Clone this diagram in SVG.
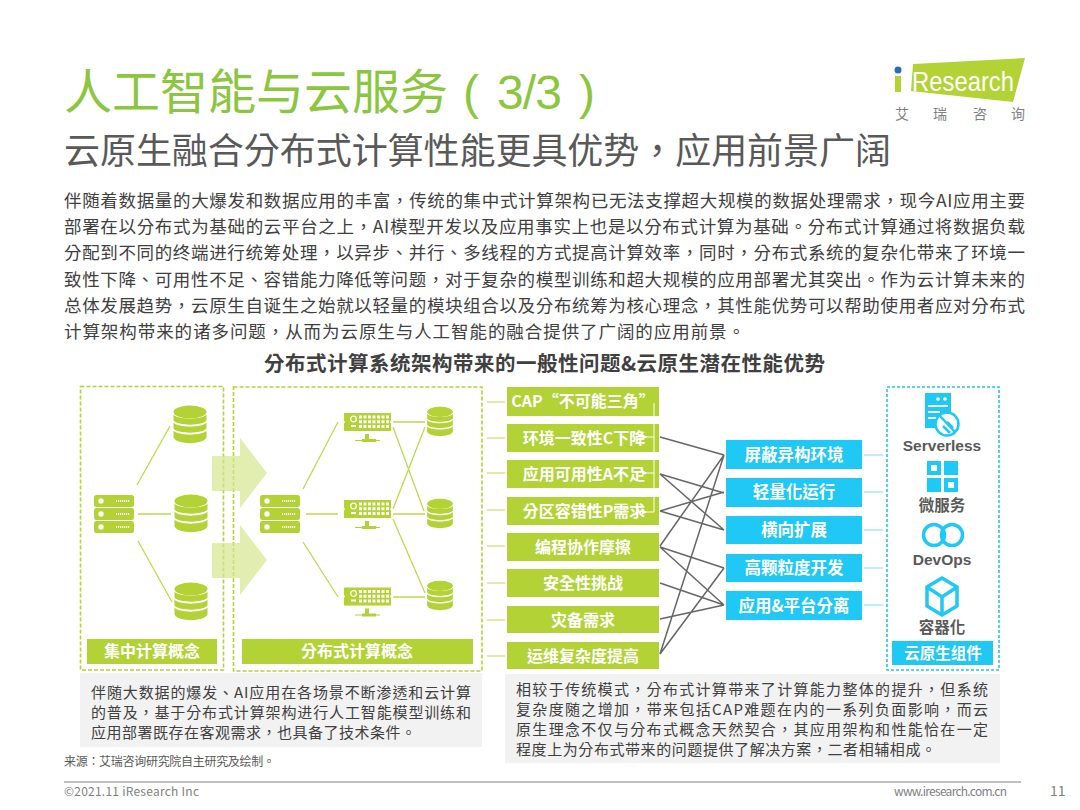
<svg xmlns="http://www.w3.org/2000/svg" width="1080" height="810" viewBox="0 0 1080 810">
<style>
text{font-family:"Noto Sans CJK TC","Liberation Sans",sans-serif}
.lbl{fill:#fff;font-weight:700;font-size:16px;text-anchor:middle}
.g{fill:#B2D235}.b{fill:#1FC8F5}
.dg{fill:none;stroke:#B2D235;stroke-width:1.6;stroke-dasharray:4 2}
.db{fill:none;stroke:#1FC8F5;stroke-width:1.6;stroke-dasharray:3 2}
.para{fill:#404040;font-size:17.5px}
.note{fill:#404040;font-size:15px}
.ic{fill:#595959;font-weight:700;font-size:15.5px;text-anchor:middle}
.gl{stroke:#BDD94F;stroke-width:1.3;fill:none}
.gr{stroke:#666;stroke-width:1.5;fill:none}
.st{stroke:#BDD94F;stroke-width:1.2}
.sb{stroke:#7FDDF7;stroke-width:1.2}
.foot{fill:#7f7f7f;font-size:12px}
.ttl{font-size:48px;fill:#8CC63F}
.lat{font-family:"Liberation Sans",sans-serif}
.wl{fill:none;stroke:#fff;stroke-width:1}
</style>
<defs>
<g id="dbi"><ellipse cx="0" cy="-13" rx="16.5" ry="6.5" class="g"/>
<path class="g" d="M-16.5-10.500C-13-5 13-5 16.500-10.500V-4.500C13 1-13 1-16.500-4.500Z"/>
<path class="g" d="M-16.500-2.500C-13 3 13 3 16.500-2.500V3.500C13 9-13 9-16.500 3.500Z"/>
<path class="g" d="M-16.500 5.500C-13 11 13 11 16.500 5.500V12.500C13 20-13 20-16.500 12.500Z"/></g>
<g id="srv"><g class="g"><rect x="0" y="0" width="40" height="12" rx="2.500"/><rect x="0" y="13" width="40" height="12" rx="2.500"/><rect x="0" y="26" width="40" height="12" rx="2.500"/></g>
<g fill="#fff"><circle cx="7" cy="6" r="2.700"/><circle cx="7" cy="19" r="2.700"/><circle cx="7" cy="32" r="2.700"/></g>
<path d="M22 6h14M22 19h14M22 32h14" stroke="#fff" stroke-width="2" stroke-dasharray="1.200 .8"/></g>
<g id="rack"><path class="g" d="M0 0H47V7.500L46 9L47 10.500V18H0V10.500L1 9L0 7.500Z"/>
<circle cx="9.500" cy="6" r="2.800" fill="none" stroke="#fff" stroke-width="1.200"/><rect x="7" y="12" width="5" height="2" fill="#fff"/>
<path d="M15 4H46M15 8.800H46M15 13.600H46" stroke="#fff" stroke-width="3" stroke-dasharray="3 1.500"/>
<path class="g" d="M21 21h4v5h7v3h-14v-3h3Z"/><path d="M11 27.500H36" stroke="#B2D235" stroke-width="1"/></g>
<marker id="wh" markerWidth="5" markerHeight="6" refX="4" refY="3" orient="auto"><path d="M5 0L0 3L5 6Z" fill="#fff"/></marker>
</defs>
<rect width="1080" height="810" fill="#fff"/>
<g id="title">
<text class="ttl" x="64" y="109">人工智能与云服务</text>
<text class="ttl lat" x="463" y="109">(</text><text class="ttl lat" x="497" y="109" textLength="65">3/3</text><text class="ttl lat" x="579" y="109">)</text>
</g>
<text x="64" y="164" font-size="36" fill="#595959" textLength="827">云原生融合分布式计算性能更具优势，应用前景广阔</text>
<g id="logo"><path d="M913 64L1025 58L1013 102L911 91Z" fill="#B2D235"/><circle cx="898" cy="70" r="3.500" fill="#2B6DB5"/><rect x="895" y="76" width="6" height="16" fill="#B2D235"/>
<text class="lat" x="912" y="91" font-size="28" fill="#fff" textLength="102" lengthAdjust="spacingAndGlyphs">Research</text>
<text x="895" y="119" font-size="14" fill="#7f7f7f">艾</text><text x="933" y="119" font-size="14" fill="#7f7f7f">瑞</text><text x="973" y="119" font-size="14" fill="#7f7f7f">咨</text><text x="1011" y="119" font-size="14" fill="#7f7f7f">询</text></g>
<g id="intro">
<text class="para" x="64" y="207" textLength="961">伴随着数据量的大爆发和数据应用的丰富，传统的集中式计算架构已无法支撑超大规模的数据处理需求，现今AI应用主要</text>
<text class="para" x="64" y="233" textLength="961">部署在以分布式为基础的云平台之上，AI模型开发以及应用事实上也是以分布式计算为基础。分布式计算通过将数据负载</text>
<text class="para" x="64" y="259" textLength="961">分配到不同的终端进行统筹处理，以异步、并行、多线程的方式提高计算效率，同时，分布式系统的复杂化带来了环境一</text>
<text class="para" x="64" y="286" textLength="961">致性下降、可用性不足、容错能力降低等问题，对于复杂的模型训练和超大规模的应用部署尤其突出。作为云计算未来的</text>
<text class="para" x="64" y="312" textLength="961">总体发展趋势，云原生自诞生之始就以轻量的模块组合以及分布统筹为核心理念，其性能优势可以帮助使用者应对分布式</text>
<text class="para" x="64" y="338" textLength="681">计算架构带来的诸多问题，从而为云原生与人工智能的融合提供了广阔的应用前景。</text>
</g>
<text x="264" y="371" font-size="20.500" font-weight="700" fill="#404040" textLength="561">分布式计算系统架构带来的一般性问题&amp;云原生潜在性能优势</text>

<g id="central"><rect class="dg" x="80.500" y="386.500" width="143" height="283.500"/>
<use href="#dbi" x="190" y="425"/><use href="#dbi" x="191" y="514"/><use href="#dbi" x="191" y="602"/>
<use href="#srv" x="94" y="495"/>
<rect class="g" x="87" y="639" width="130" height="25"/><text class="lbl" x="152" y="657">集中计算概念</text></g>
<g id="distributed"><rect class="dg" x="233.500" y="387" width="248.500" height="284"/>
<use href="#srv" x="260" y="495"/>
<use href="#rack" x="344" y="413"/><use href="#rack" x="344" y="500"/><use href="#rack" x="344" y="587.500"/>
<g transform="translate(440,422) scale(.78)"><use href="#dbi"/></g><g transform="translate(440,514) scale(.78)"><use href="#dbi"/></g><g transform="translate(440,596) scale(.78)"><use href="#dbi"/></g>
<rect class="g" x="242" y="639" width="231" height="25"/><text class="lbl" x="357" y="657">分布式计算概念</text></g>

<g id="connectors">
<path class="gl" d="M137 485L170 426M138 514H171M138 541L172 602M303 489L338 422M306 514H338M303 542L338 597M393 422H425M393 427L424 511M393 509L425 427M393 514H425M393 519L425 593M393 597H425"/>
<path class="st" d="M487 402H505M487 438H505M487 473H505M487 510H505M487 546H505M487 583H505M487 620H505M487 656H505"/>
<path class="sb" d="M864 455H883M864 492H883M864 530H883M864 568H883M864 605H883"/>
<path class="gr" d="M660 437L724 455M660 474L724 493M660 474L724 530M660 511L724 492M660 511L724 530M660 546L724 455M660 547L724 568M660 547L724 605M660 583L724 605M660 619L724 605M660 654L724 455M660 654L724 568"/>
</g>
<g id="arrows" fill="#D5E58F" fill-opacity=".7"><path d="M212 456H240V438L267 473L240 508V491H212Z"/><path d="M212 543H240V525L267 560L240 595V578H212Z"/></g>

<g id="mid">
<g id="p1"><rect class="g" x="507" y="387" width="152" height="29"/><text class="lbl" x="583" y="407">CAP“不可能三角”</text></g>
<g id="p2"><rect class="g" x="507" y="424" width="152" height="28"/><text class="lbl" x="584" y="444">环境一致性C下降</text></g>
<g id="p3"><rect class="g" x="507" y="460" width="152" height="28"/><text class="lbl" x="584" y="480">应用可用性A不足</text></g>
<g id="p4"><rect class="g" x="507" y="497" width="152" height="28"/><text class="lbl" x="584" y="517">分区容错性P需求</text></g>
<g id="p5"><rect class="g" x="507" y="533" width="152" height="28"/><text class="lbl" x="583" y="553">编程协作摩擦</text></g>
<g id="p6"><rect class="g" x="507" y="569" width="152" height="28"/><text class="lbl" x="583" y="589">安全性挑战</text></g>
<g id="p7"><rect class="g" x="507" y="606" width="152" height="27"/><text class="lbl" x="583" y="626">灾备需求</text></g>
<g id="p8"><rect class="g" x="507" y="642" width="152" height="27"/><text class="lbl" x="583" y="662">运维复杂度提高</text></g>
</g>
<g id="bracket"><path class="wl" d="M654 403V512"/><path class="wl" d="M654 437H643" marker-end="url(#wh)"/><path class="wl" d="M654 473H643" marker-end="url(#wh)"/><path class="wl" d="M654 512H643" marker-end="url(#wh)"/></g>
<g id="adv">
<g id="a1"><rect class="b" x="726" y="440" width="136" height="29"/><text class="lbl" x="794" y="461" style="font-size:16.500px">屏蔽异构环境</text></g>
<g id="a2"><rect class="b" x="726" y="478" width="136" height="29"/><text class="lbl" x="794" y="498" style="font-size:16.500px">轻量化运行</text></g>
<g id="a3"><rect class="b" x="726" y="516" width="136" height="28"/><text class="lbl" x="794" y="536" style="font-size:16.500px">横向扩展</text></g>
<g id="a4"><rect class="b" x="726" y="554" width="136" height="28"/><text class="lbl" x="794" y="574" style="font-size:16.500px">高颗粒度开发</text></g>
<g id="a5"><rect class="b" x="726" y="591" width="136" height="29"/><text class="lbl" x="794" y="612" style="font-size:16.500px">应用&amp;平台分离</text></g>
</g>
<g id="cloud"><rect class="db" x="887" y="387" width="112" height="283"/>
<g id="ic-serverless"><rect class="b" x="925" y="393" width="26" height="35"/><circle cx="938" cy="399" r="1.800" fill="#fff"/><circle cx="945" cy="399" r="1.800" fill="#fff"/><path d="M928 406H948M928 412H940M928 418H937" stroke="#fff" stroke-width="2"/>
<circle cx="947" cy="424" r="11.500" fill="#fff" stroke="#1FC8F5" stroke-width="2.500"/><path d="M940 416L955 432" stroke="#1FC8F5" stroke-width="2.500"/><path d="M943 426L950 433M947 422L953 428" stroke="#1FC8F5" stroke-width="2.500"/>
<text class="ic lat" x="942" y="451">Serverless</text></g>
<g id="ic-micro"><rect class="b" x="927" y="461" width="14" height="14"/><rect x="931" y="465" width="6" height="6" fill="#fff"/><rect class="b" x="944" y="461" width="14" height="14"/><rect class="b" x="927" y="478" width="14" height="14"/><rect class="b" x="944" y="478" width="14" height="14"/><rect x="948" y="482" width="6" height="6" fill="#fff"/>
<text class="ic" x="942" y="511">微服务</text></g>
<g id="ic-devops" fill="none" stroke="#1FC8F5" stroke-width="3.500"><circle cx="934" cy="535" r="10.500"/><circle cx="952" cy="535" r="10.500"/>
<text class="ic lat" x="942" y="565" stroke="none">DevOps</text></g>
<g id="ic-container"><path d="M942 578L927 587V606L942 615L957 606V587Z" fill="none" stroke="#1FC8F5" stroke-width="3.500"/><path d="M927 587L942 597L957 587M942 597V615" fill="none" stroke="#1FC8F5" stroke-width="3.500"/>
<text class="ic" x="942" y="633">容器化</text></g>
<rect class="b" x="892" y="641" width="101" height="24"/><text class="lbl" x="943" y="659" style="font-size:15.500px">云原生组件</text></g>
<g id="notes">
<rect x="80" y="673" width="402" height="74" fill="#F2F2F2"/>
<rect x="505" y="674" width="495" height="89" fill="#F2F2F2"/>
<text class="note" x="91" y="698" textLength="380">伴随大数据的爆发、AI应用在各场景不断渗透和云计算</text>
<text class="note" x="91" y="718" textLength="380">的普及，基于分布式计算架构进行人工智能模型训练和</text>
<text class="note" x="91" y="738" textLength="325">应用部署既存在客观需求，也具备了技术条件。</text>
<text class="note" x="516" y="695" textLength="472">相较于传统模式，分布式计算带来了计算能力整体的提升，但系统</text>
<text class="note" x="516" y="715" textLength="472">复杂度随之增加，带来包括CAP难题在内的一系列负面影响，而云</text>
<text class="note" x="516" y="735" textLength="472">原生理念不仅与分布式概念天然契合，其应用架构和性能恰在一定</text>
<text class="note" x="516" y="755" textLength="420">程度上为分布式带来的问题提供了解决方案，二者相辅相成。</text>
</g>
<text x="64" y="766" font-size="12" fill="#595959" textLength="211">来源：艾瑞咨询研究院自主研究及绘制。</text>
<path d="M64 782H1021" stroke="#808080" stroke-width="1"/>
<text class="foot" x="64" y="796" textLength="135">©2021.11 iResearch Inc</text>
<text class="foot" x="894" y="796" textLength="113">www.iresearch.com.cn</text>
<text class="foot" x="1050" y="796" style="font-size:14px">11</text>
</svg>
